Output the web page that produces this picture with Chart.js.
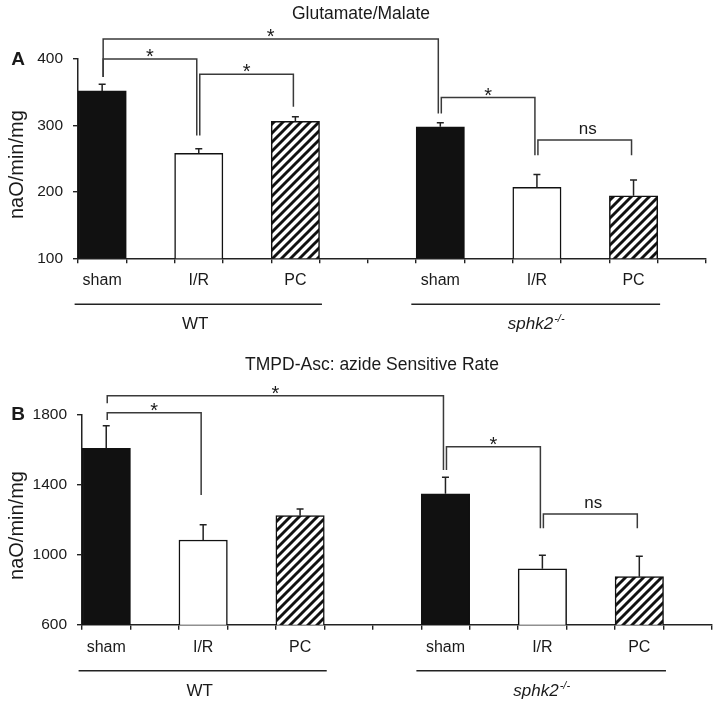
<!DOCTYPE html>
<html>
<head>
<meta charset="utf-8">
<script src="https://cdn.jsdelivr.net/npm/chart.js@4.4.1/dist/chart.umd.min.js"></script>
<style>
  body { margin: 0; background: #fff; }
  .panel { position: absolute; left: 0; width: 719px; }
  #panelA { top: 0; height: 342px; }
  #panelB { top: 330px; height: 374px; }
</style>
</head>
<body>
<div class="panel" id="panelA"><canvas id="chartA"></canvas></div>
<div class="panel" id="panelB"><canvas id="chartB"></canvas></div>
<script>
// x slots: 13 category slots, bars sit on some of them
const slotLabels = ['sham', '', 'I/R', '', 'PC', '', '', 'sham', '', 'I/R', '', 'PC', ''];
const barSlots = [0, 2, 4, 7, 9, 11];
const groupNames = ['WT', 'sphk2'];

// panel A
const gluTitle = 'Glutamate/Malate';
const gluTicks = [100, 400, 100];          // min, max, step
const gluWT = [352, 258, 306];
const gluWTErr = [10, 7, 7];
const gluKO = [298, 207, 194];
const gluKOErr = [6, 19, 24];
// [from slot, to slot, top value, left end value, right end value, text]
const gluBrackets = [
  [0, 7, 430, 373, 318, '*'],
  [0, 2, 400, 373, 285, '*'],
  [2, 4, 377, 285, 328, '*'],
  [7, 9, 342, 318, 255, '*'],
  [9, 11, 278, 255, 255, 'ns']
];

// panel B
const tmpdTitle = 'TMPD-Asc: azide Sensitive Rate';
const tmpdTicks = [600, 1800, 400];
const tmpdWT = [1606, 1083, 1222];
const tmpdWTErr = [129, 87, 38];
const tmpdKO = [1347, 919, 874];
const tmpdKOErr = [94, 77, 116];
const tmpdBrackets = [
  [0, 7, 1906, 1863, 1482, '*'],
  [0, 2, 1809, 1768, 1340, '*'],
  [7, 9, 1615, 1482, 1150, '*'],
  [9, 11, 1231, 1150, 1150, 'ns']
];

const FONT = "'Liberation Sans', Arial, sans-serif";
const INK = '#1a1a1a';
Chart.defaults.font.family = FONT;
Chart.defaults.color = INK;

// group underline spans in slot units
const groupSpans = [[-0.57, 4.55], [6.4, 11.55]];

function spread(wt, ko) {
  const arr = slotLabels.map(() => null);
  wt.concat(ko).forEach((v, i) => { arr[barSlots[i]] = v; });
  return arr;
}

function makeHatch(canvas) {
  const n = 9;
  const c = document.createElement('canvas');
  c.width = n; c.height = n;
  const g = c.getContext('2d');
  g.fillStyle = '#fff';
  g.fillRect(0, 0, n, n);
  g.strokeStyle = '#111';
  g.lineWidth = 2.9;
  g.beginPath();
  g.moveTo(0, n); g.lineTo(n, 0);
  g.moveTo(-2, 2); g.lineTo(2, -2);
  g.moveTo(n - 2, n + 2); g.lineTo(n + 2, n - 2);
  g.stroke();
  return canvas.getContext('2d').createPattern(c, 'repeat');
}

const annotate = {
  id: 'annotate',
  afterDatasetsDraw(chart, args, o) {
    const ctx = chart.ctx;
    const xs = chart.scales.x, ys = chart.scales.y;
    const area = chart.chartArea;
    const meta = chart.getDatasetMeta(0);
    const vals = o.wt.concat(o.ko);
    const errs = o.wtErr.concat(o.koErr);
    ctx.save();

    // error bars (upper only)
    ctx.strokeStyle = '#222';
    ctx.lineWidth = 1.5;
    barSlots.forEach((s, i) => {
      const x = meta.data[s].x;
      const y0 = ys.getPixelForValue(vals[i]);
      const y1 = ys.getPixelForValue(vals[i] + errs[i]);
      ctx.beginPath();
      ctx.moveTo(x, y0); ctx.lineTo(x, y1);
      ctx.moveTo(x - 3.5, y1); ctx.lineTo(x + 3.5, y1);
      ctx.stroke();
    });

    // significance brackets
    ctx.strokeStyle = '#3a3a3a';
    ctx.lineWidth = 1.5;
    ctx.fillStyle = INK;
    ctx.textAlign = 'center';
    o.brackets.forEach(b => {
      const x1 = xs.getPixelForValue(b[0]) + 1;
      const x2 = xs.getPixelForValue(b[1]) - 2;
      const yt = ys.getPixelForValue(b[2]);
      const yl = ys.getPixelForValue(b[3]);
      const yr = ys.getPixelForValue(b[4]);
      ctx.beginPath();
      ctx.moveTo(x1, yl); ctx.lineTo(x1, yt); ctx.lineTo(x2, yt); ctx.lineTo(x2, yr);
      ctx.stroke();
      if (b[5] === '*') {
        ctx.font = '20px ' + FONT;
        ctx.fillText('*', (x1 + x2) / 2, yt + 4);
      } else {
        ctx.font = '17px ' + FONT;
        ctx.fillText(b[5], (x1 + x2) / 2 + 3, yt - 6);
      }
    });

    // group underlines and names
    ctx.strokeStyle = '#222';
    ctx.lineWidth = 1.5;
    groupSpans.forEach((g, i) => {
      const a = xs.getPixelForValue(g[0]);
      const z = xs.getPixelForValue(g[1]);
      const ly = area.bottom + 46;
      ctx.beginPath();
      ctx.moveTo(a, ly); ctx.lineTo(z, ly);
      ctx.stroke();
      const cx = (a + z) / 2;
      const by = area.bottom + 71;
      if (i === 0) {
        ctx.font = '17px ' + FONT;
        ctx.textAlign = 'center';
        ctx.fillText(groupNames[i], cx - 3, by);
      } else {
        ctx.font = 'italic 17px ' + FONT;
        const w1 = ctx.measureText(groupNames[i]).width;
        ctx.font = 'italic 11px ' + FONT;
        const w2 = ctx.measureText('-/-').width;
        const left = cx - (w1 + w2) / 2;
        ctx.textAlign = 'left';
        ctx.font = 'italic 17px ' + FONT;
        ctx.fillText(groupNames[i], left, by);
        ctx.font = 'italic 11px ' + FONT;
        ctx.fillText('-/-', left + w1 + 1, by - 7);
      }
    });

    // panel title, letter, y axis title
    ctx.textAlign = 'center';
    ctx.font = '17.5px ' + FONT;
    ctx.fillText(o.title, o.titleX, o.titleY);
    ctx.font = 'bold 19px ' + FONT;
    ctx.fillText(o.letter, 18, area.top + 6);
    ctx.translate(17, (area.top + area.bottom) / 2 + 6);
    ctx.rotate(-Math.PI / 2);
    ctx.font = '20px ' + FONT;
    ctx.textBaseline = 'middle';
    ctx.fillText('naO/min/mg', 0, 0);
    ctx.restore();
  }
};

function buildChart(id, ticks, wt, ko, pad, yWidth, extra) {
  const canvas = document.getElementById(id);
  const hatch = makeHatch(canvas);
  const fills = slotLabels.map(l => l === 'sham' ? '#111' : (l === 'PC' ? hatch : '#fff'));
  const axisGrid = { drawOnChartArea: false, drawTicks: true, tickLength: 5, color: '#222', lineWidth: 1.4 };
  const axisBorder = { display: true, color: '#222', width: 1.5 };
  return new Chart(canvas, {
    type: 'bar',
    data: {
      labels: slotLabels,
      datasets: [{
        data: spread(wt, ko),
        backgroundColor: fills,
        borderColor: '#111',
        borderWidth: 1.5,
        barPercentage: 1,
        categoryPercentage: 1
      }]
    },
    options: {
      responsive: true,
      maintainAspectRatio: false,
      animation: false,
      layout: { padding: pad },
      plugins: { legend: { display: false }, tooltip: { enabled: false }, annotate: extra },
      scales: {
        x: {
          offset: true,
          grid: Object.assign({ offset: true }, axisGrid),
          border: axisBorder,
          ticks: { autoSkip: false, maxRotation: 0, padding: 8, font: { size: 16 } },
          afterFit: s => { s.height = 40; }
        },
        y: {
          min: ticks[0],
          max: ticks[1],
          grid: axisGrid,
          border: axisBorder,
          ticks: { stepSize: ticks[2], padding: 10, font: { size: 15.5 }, callback: v => String(v) },
          afterFit: s => { s.width = yWidth; }
        }
      }
    },
    plugins: [annotate]
  });
}

buildChart('chartA', gluTicks, gluWT, gluKO,
  { top: 59, right: 13, bottom: 43.7, left: 0 }, 78,
  { wt: gluWT, ko: gluKO, wtErr: gluWTErr, koErr: gluKOErr, brackets: gluBrackets,
    title: gluTitle, titleX: 361, titleY: 19, letter: 'A' });

buildChart('chartB', tmpdTicks, tmpdWT, tmpdKO,
  { top: 84.3, right: 7, bottom: 39.3, left: 0 }, 82,
  { wt: tmpdWT, ko: tmpdKO, wtErr: tmpdWTErr, koErr: tmpdKOErr, brackets: tmpdBrackets,
    title: tmpdTitle, titleX: 372, titleY: 40, letter: 'B' });
</script>
</body>
</html>
